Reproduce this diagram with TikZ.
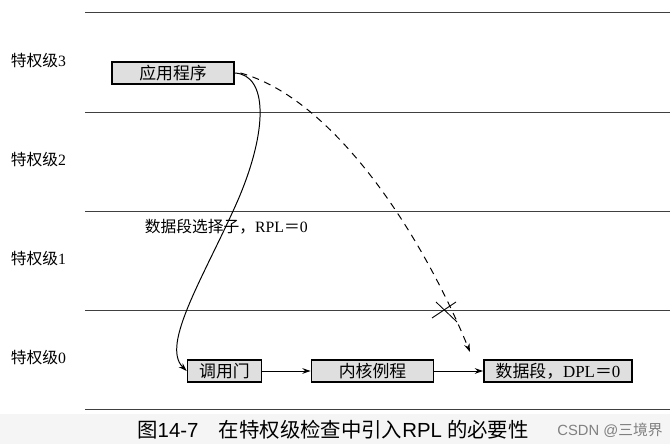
\documentclass[tikz,border=0pt]{standalone}
\usepackage{fontspec}
\usepackage{xcolor}
\usepackage{tikz}
\usetikzlibrary{arrows.meta}
\setmainfont{Liberation Serif}
\setsansfont{Liberation Sans}
\newfontfamily\cjk{Noto Sans CJK SC}

\tikzset{
  seg/.style={draw, line width=1.1pt, fill=gray!25, minimum height=0.55cm, inner sep=1pt, font=\fontsize{12}{14}\selectfont},
  lvl/.style={anchor=west, font=\fontsize{11.2}{13}\selectfont},
  jump/.style={-{Stealth[length=6pt,width=4pt]}, line width=0.7pt}
}

\begin{document}
\begin{tikzpicture}[x=0.025cm,y=-0.025cm]
                \useasboundingbox (0,0) rectangle (670,444);
                % caption strip
                \fill[gray!8] (0,414) rectangle (670,444);
                % privilege level lines
                \foreach \y in {12,112,211,310,409}
                    \draw[black!75, line width=0.6pt] (85,\y) -- (670,\y);
                \foreach \n/\y in {3/61,2/160,1/259,0/358}
                    \node[lvl] (lvl\n) at (6,\y) {{\cjk 特权级}\n};
                % segments
                \node[seg, minimum width=3.05cm] (app) at (173,73) {\cjk 应用程序};
                \node[seg, minimum width=1.85cm] (gate) at (224.5,371) {\cjk 调用门};
                \node[seg, minimum width=3.05cm] (kernel) at (372.5,371) {\cjk 内核例程};
                \node[seg, minimum width=3.7cm] (data) at (558,371) {{\cjk 数据段，}DPL{\cjk ＝}0};
                \node[anchor=west, font=\fontsize{11.2}{13}\selectfont] (sel) at (140,227) {{\cjk 数据段选择子，}RPL{\cjk ＝}0};
                % call path
                \draw[jump] (app.east) .. controls (268,75) and (268,130) .. (238,200)
                    .. controls (205,275) and (160,345) .. (gate.west);
                \draw[jump] (gate) -- (kernel);
                \draw[jump] (kernel) -- (data);
                % direct access, refused
                \coordinate (cut) at (443,310);
                \draw[jump, dashed, dash pattern=on 5pt off 4pt] ([xshift=4pt]app.east) .. controls (332,98) and (420,230) .. (470,352);
                \draw[line width=0.6pt] ([shift={(-11,8)}]cut) -- ([shift={(13,-8)}]cut);
                \draw[line width=0.6pt] ([shift={(-7,-8)}]cut) -- ([shift={(14,12)}]cut);
                % caption
                \node[font=\fontsize{14.5}{16}\selectfont] (cap) at (333,430) {{\cjk 图}\textsf{14-7}\quad{\cjk 在特权级检查中引入}\textsf{RPL} {\cjk 的必要性}};
                \node[font=\fontsize{10.5}{12}\selectfont, text=gray] (mark) at (610,430) {\textsf{CSDN @}{\cjk 三境界}};
            \end{tikzpicture}
\end{document}
